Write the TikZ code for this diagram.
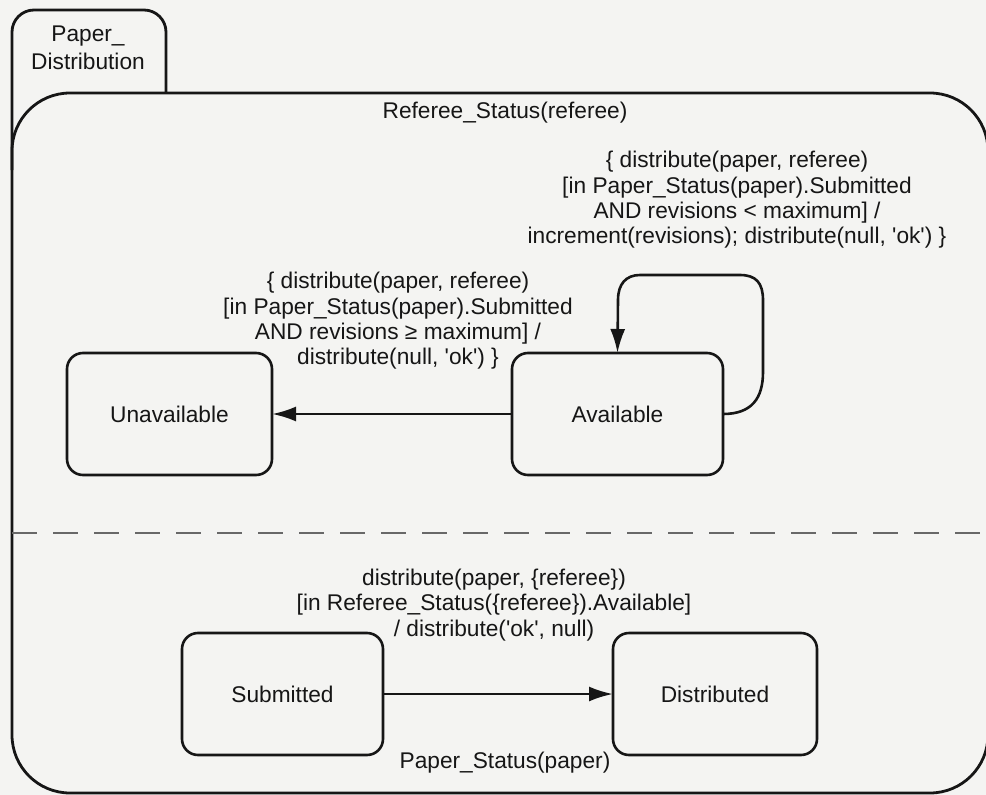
\documentclass[tikz,border=0pt]{standalone}
\usepackage{fontspec}
\setmainfont{Liberation Sans}
\usetikzlibrary{arrows.meta}
\definecolor{paper}{RGB}{244,244,242}
\definecolor{ink}{RGB}{22,22,22}
% straight single quote
\newcommand{\tq}{\textquotesingle}
\begin{document}
\begin{tikzpicture}[x=1pt,y=-1pt,
  every node/.style={text=ink, font=\fontsize{22.7}{25.3}\selectfont},
  statebox/.style={draw=ink, line width=2.6pt, rounded corners=16pt,
    minimum height=122pt, inner sep=0pt, outer sep=0pt},
  guard/.style={align=center, inner sep=0pt},
  trans/.style={draw=ink, line width=2.6pt, -{Latex[length=24pt,width=15pt]}},
  region/.style={draw=ink, line width=2.8pt},
  separator/.style={draw=ink!65, line width=1.6pt, dash pattern=on 25pt off 16pt}]
% page
\fill[paper] (0,0) rectangle (986,795);
\useasboundingbox (0,0) rectangle (986,795);

% composite state Paper_Distribution: tab and body
\draw[region, rounded corners=22pt] (12,170) -- (12,10) -- (166,10) -- (166,93);
\draw[region, rounded corners=58pt] (12,93) rectangle (988,793);
\node[guard, font=\fontsize{22.7}{28}\selectfont] (pdname) at (88,48) {Paper\_\\Distribution};

% concurrent regions
\draw[separator] (12,533) -- (986,533);
\node[guard] (rsname) at (505,113) {Referee\_Status(referee)};
\node[guard] (psname) at (505,763) {Paper\_Status(paper)};

% Referee_Status states
\node[statebox, minimum width=205pt] (unavail) at (169.5,414) {Unavailable};
\node[statebox, minimum width=211pt] (avail) at (617.5,414) {Available};

% Paper_Status states
\node[statebox, minimum width=201pt] (subm) at (282.5,694) {Submitted};
\node[statebox, minimum width=204pt] (distr) at (715,694) {Distributed};

% transitions
\draw[trans] (avail.west) -- (unavail.east);
\draw[trans] (avail.east) .. controls (752,414) and (763,398) .. (763,372)
  -- (763,300) .. controls (763,283) and (756,275) .. (740,275)
  -- (640,275) .. controls (626,275) and (618,284) .. (618,300)
  -- (avail.north);
\draw[trans] (subm.east) -- (distr.west);

% transition labels
\node[guard] (selfguard) at (737,200)
  {\{ distribute(paper, referee)\\{}%
   [in Paper\_Status(paper).Submitted\\
   AND revisions < maximum] /\\
   increment(revisions); distribute(null, \tq ok\tq) \}};
\node[guard] (outguard) at (398,321)
  {\{ distribute(paper, referee)\\{}%
   [in Paper\_Status(paper).Submitted\\
   AND revisions ≥ maximum] /\\
   distribute(null, \tq ok\tq) \}};
\node[guard] (distguard) at (494,605)
  {distribute(paper, \{referee\})\\{}%
   [in Referee\_Status(\{referee\}).Available]\\
   / distribute(\tq ok\tq, null)};
\end{tikzpicture}
\end{document}
